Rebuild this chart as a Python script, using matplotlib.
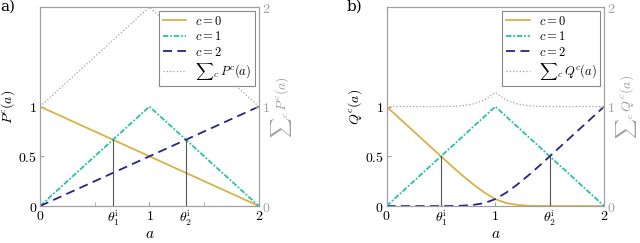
import numpy as np
from matplotlib import pyplot as plt

plt.rcParams['mathtext.fontset'] = 'cm'
plt.rcParams['font.family'] = 'serif'
plt.rcParams['font.serif'] = ['DejaVu Serif']

# panel a) data
a_p = [0, 1, 2]
p0 = [1, 0.5, 0]
p1 = [0, 1, 0]
p2 = [0, 0.5, 1]
theta_p = [2 / 3, 4 / 3]

# panel b) data
a_q = [0, 0.1, 0.2, 0.3, 0.4, 0.5, 0.6, 0.7, 0.8, 0.9, 1.0,
       1.1, 1.2, 1.3, 1.4, 1.5, 1.6, 1.7, 1.8, 1.9, 2.0]
q0 = [1.0, 0.9, 0.8, 0.7, 0.6, 0.5, 0.4, 0.305, 0.215, 0.135, 0.07,
      0.03, 0.012, 0.004, 0.001, 0, 0, 0, 0, 0, 0]
q1 = [0, 0.1, 0.2, 0.3, 0.4, 0.5, 0.6, 0.7, 0.8, 0.9, 1.0,
      0.9, 0.8, 0.7, 0.6, 0.5, 0.4, 0.3, 0.2, 0.1, 0]
q2 = [0, 0, 0, 0, 0, 0, 0.001, 0.004, 0.012, 0.03, 0.07,
      0.135, 0.215, 0.305, 0.4, 0.5, 0.6, 0.7, 0.8, 0.9, 1.0]
theta_q = [0.5, 1.5]

gold = '#D6B247'
teal = '#25C2A2'
navy = '#272585'
gray = '#a0a0a0'

fig = plt.figure(figsize=(6.4, 2.43), dpi=100)


def panel(rect, a, c0, c1, c2, theta, name, tag, minor):
    ax = fig.add_axes(rect)
    s = np.array(c0) + np.array(c1) + np.array(c2)
    l0, = ax.plot(a, c0, '-', color=gold, lw=1.3)
    l1, = ax.plot(a, c1, '-.', color=teal, lw=1.3, dashes=(3, 1, 1, 1))
    l2, = ax.plot(a, c2, '--', color=navy, lw=1.3, dashes=(5, 3))
    l3, = ax.plot(a, s, ':', color=gray, lw=0.9)
    for t in theta:
        ax.plot([t, t], [0, np.interp(t, a, c1)], color='#555555', lw=0.8)
    ax.set_xlim(0, 2)
    ax.set_ylim(0, 2)
    ax.set_yticks([0, 0.5, 1])
    ax.set_yticklabels(['$0$', '$0.5$', '$1$'], fontsize=10)
    ax.set_xticks([0, theta[0], 1, theta[1], 2])
    ax.set_xticklabels(['$0$', r'$\theta_1^{\mathrm{i}}$', '$1$',
                        r'$\theta_2^{\mathrm{i}}$', '$2$'], fontsize=10)
    ax.set_xticks(minor, minor=True)
    ax.tick_params(direction='in', length=3, color=gray, pad=2)
    ax.tick_params(which='minor', direction='in', length=3, color=gray)
    for sp in ax.spines.values():
        sp.set_color(gray)
    ax.set_xlabel('$a$', fontsize=11, labelpad=-1)
    ax.set_ylabel('$%s^c(a)$' % name, fontsize=10)
    ax.yaxis.set_label_coords(-0.105, 0.5)

    ax2 = ax.twinx()
    ax2.set_ylim(0, 2)
    ax2.set_yticks([0, 1, 2])
    ax2.set_yticklabels(['$0$', '$1$', '$2$'], fontsize=10, color=gray)
    ax2.tick_params(direction='in', length=3, color=gray, pad=2)
    for sp in ax2.spines.values():
        sp.set_color(gray)
    ax2.set_ylabel(r'${\sum}_c\, %s^c(a)$' % name, fontsize=10, color=gray)
    ax2.yaxis.set_label_coords(1.045, 0.5)

    leg = ax2.legend([l0, l1, l2, l3],
                     ['$c=0$', '$c=1$', '$c=2$', r'${\sum}_c\, %s^c(a)$' % name],
                     loc='upper right', fontsize=9, fancybox=False,
                     edgecolor='#888888', framealpha=1, borderpad=0.3,
                     labelspacing=0.2, handlelength=1.9, handletextpad=0.7,
                     borderaxespad=0.3)
    leg.get_frame().set_linewidth(0.8)
    fig.text(rect[0] - 0.062, 0.955, tag, fontsize=11, family='DejaVu Serif')
    return ax


panel([0.0625, 0.152, 0.342, 0.819], a_p, p0, p1, p2, theta_p, 'P', 'a)', [0.5, 1.5])
panel([0.604, 0.152, 0.340, 0.819], a_q, q0, q1, q2, theta_q, 'Q', 'b)', [])

fig.savefig('out.png', dpi=100)
